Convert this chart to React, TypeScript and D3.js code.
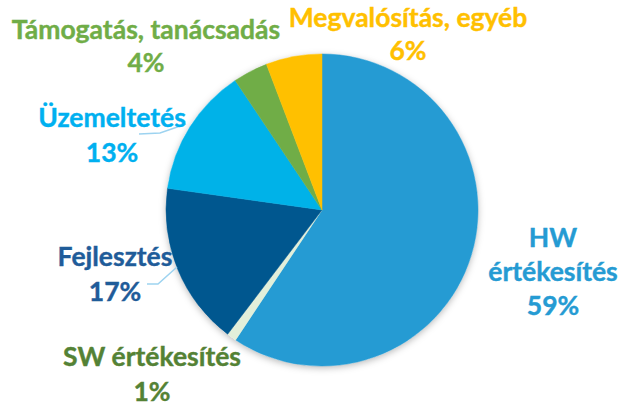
import React from "react";
import * as d3 from "d3";

const categories = [
  "HW értékesítés",
  "SW értékesítés",
  "Fejlesztés",
  "Üzemeltetés",
  "Támogatás, tanácsadás",
  "Megvalósítás, egyéb",
];
const values = [59.4, 1.0, 16.9, 13.4, 3.6, 5.8];
const sliceColors = ["#259BD3", "#E2EFDA", "#00578F", "#00B2E8", "#70AD47", "#FFC000"];
const labelColors = ["#259BD3", "#548235", "#1F5C99", "#00B0F0", "#70AD47", "#FFC000"];
// label layout: lines of text + anchor (center x, first baseline)
const labelLines = [
  ["HW", "értékesítés"],
  ["SW értékesítés"],
  ["Fejlesztés"],
  ["Üzemeltetés"],
  ["Támogatás, tanácsadás"],
  ["Megvalósítás, egyéb"],
];
const labelAnchors: [number, number][] = [
  [553, 247],
  [152, 366],
  [115, 266],
  [112, 127],
  [146, 39],
  [408, 27],
];
const lineGaps = [34, 35, 35, 35, 33, 33];

const W = 620;
const H = 410;
const cx = 322;
const cy = 210;
const R = 156;

export default function App() {
  const total = d3.sum(values);
  const pie = d3
    .pie<number>()
    .sort(null)
    .value((d) => d)
    .startAngle(0)
    .endAngle(2 * Math.PI);
  const arcs = pie(values);
  const arc = d3.arc<d3.PieArcDatum<number>>().innerRadius(0).outerRadius(R);

  const leaders: [number, number][][] = [
    [
      [139, 134],
      [160, 133],
      [186, 124],
    ],
    [
      [147, 284],
      [158, 284],
      [177, 267],
    ],
  ];
  const line = d3.line();

  return (
    <svg
      width={W}
      height={H}
      style={{ position: "absolute", left: 0, top: 0, background: "#fff" }}
      fontFamily="Lato, 'Open Sans', sans-serif"
      fontWeight="bold"
    >
      <defs>
        <filter id="sh" x="-20%" y="-20%" width="140%" height="140%">
          <feDropShadow dx="0" dy="2" stdDeviation="3.5" floodColor="#000" floodOpacity="0.28" />
        </filter>
      </defs>
      <g transform={`translate(${cx},${cy})`}>
        <circle r={R} fill="#fff" filter="url(#sh)" />
        {arcs.map((a, i) => (
          <path key={i} d={arc(a) || ""} fill={sliceColors[i]} stroke={sliceColors[i]} strokeWidth={0.5} />
        ))}
      </g>
      {leaders.map((pts, i) => (
        <path key={i} d={line(pts) || ""} fill="none" stroke="#9DD3F0" strokeWidth={1.5} />
      ))}
      {categories.map((c, i) => {
        const [x, y] = labelAnchors[i];
        const lines = [...labelLines[i], `${Math.round((values[i] / total) * 100)}%`];
        return (
          <text
            key={c}
            x={x}
            y={y}
            textAnchor="middle"
            fill={labelColors[i]}
            fontSize={26.5}
            stroke={labelColors[i]}
            strokeWidth={0.4}
          >
            {lines.map((t, j) => (
              <tspan key={j} x={x} y={y + j * lineGaps[i]}>
                {t}
              </tspan>
            ))}
          </text>
        );
      })}
    </svg>
  );
}
